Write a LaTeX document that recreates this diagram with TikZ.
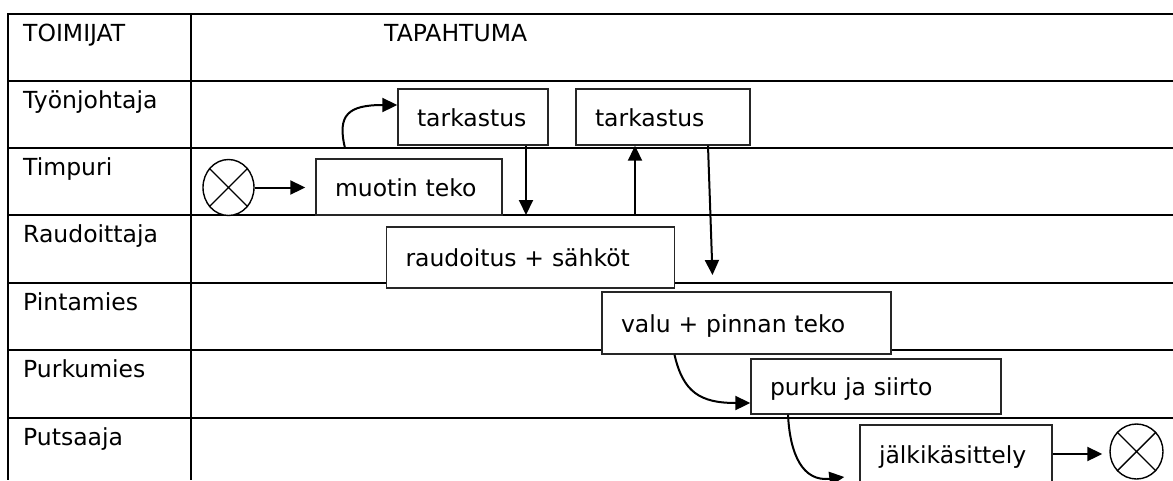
\documentclass[tikz,border=0pt]{standalone}
\usepackage{fontspec}
\setmainfont{DejaVu Sans}
\usetikzlibrary{arrows.meta,shapes.geometric}

\begin{document}
\begin{tikzpicture}[x=1pt,y=-1pt,
  every node/.style={font=\fontsize{23.5}{28}\selectfont},
  rule/.style={line width=2pt},
  lbl/.style={anchor=base west, inner sep=0pt},
  task/.style={draw=black!85, fill=white, line width=1.4pt, inner xsep=19pt,
    inner ysep=0pt, align=left, text height=18pt, text depth=0pt},
  term/.style={ellipse, draw, fill=white, line width=1.4pt, inner sep=0pt},
  cross/.style={line width=1.4pt},
  flow/.style={line width=2pt, -{Triangle[length=15pt,width=14pt]}},
]
\useasboundingbox (0,0) rectangle (1173,480);
\fill[white] (0,0) rectangle (1173,480);

% table grid
\draw[rule] (1173,14) -- (8,14) -- (8,480);
\draw[rule] (191,14) -- (191,480);
\foreach \y in {81,148,215,283,350,418}
  \draw[rule] (8,\y) -- (1173,\y);

% column headings and actor names
\node[lbl] (hA) at (23,41) {TOIMIJAT};
\node[lbl] (hB) at (384,41) {TAPAHTUMA};
\node[lbl] (a1) at (23,108.5) {Työnjohtaja};
\node[lbl] (a2) at (23,175.5) {Timpuri};
\node[lbl] (a3) at (23,242.5) {Raudoittaja};
\node[lbl] (a4) at (23,310.5) {Pintamies};
\node[lbl] (a5) at (23,377.5) {Purkumies};
\node[lbl] (a6) at (23,445.5) {Putsaaja};

% activities
\node[task, text width=112pt, minimum height=56pt] (t1) at (473,117) {tarkastus};
\node[task, text width=136pt, minimum height=56pt] (t2) at (663,117) {tarkastus};
\node[task, text width=148pt, minimum height=56pt] (m) at (409,187) {muotin teko};
\node[task, text width=250pt, minimum height=61pt] (rs) at (530.5,257.5) {raudoitus + sähköt};
\node[task, text width=251pt, minimum height=62pt] (vp) at (746.5,323) {valu + pinnan teko};
\node[task, text width=212pt, minimum height=55pt] (ps) at (876,386.5) {purku ja siirto};
\node[task, text width=154pt, minimum height=58pt] (jk) at (956,454) {jälkikäsittely};

% start and end terminals
\node[term, minimum width=51pt, minimum height=56pt] (st) at (228.5,187.5) {};
\draw[cross] (st.45) -- (st.225) (st.135) -- (st.315);
\node[term, minimum width=53pt, minimum height=55pt] (en) at (1136.5,451.5) {};
\draw[cross] (en.45) -- (en.225) (en.135) -- (en.315);

% flow
\coordinate (c1) at (345,148);
\coordinate (d1) at (526,215);
\coordinate (u1) at (635,215);
\coordinate (d2) at (712.5,275);

\draw[flow, shorten >=10pt] (st.east) -- (st.east -| m.west);
\draw[flow] (c1) .. controls (337,115) and (348,105) .. ([yshift=12pt]t1.west);
\draw[flow] (t1.south -| d1) -- (d1);
\draw[flow] (u1) -- (u1 |- t2.south);
\draw[flow] ([xshift=45pt]t2.south) -- (d2);
\draw[flow] ([xshift=-72pt]vp.south) .. controls (683,392) and (700,403) .. ([yshift=-16.5pt]ps.west);
\draw[flow] ([xshift=-88pt]ps.south) .. controls (790,455) and (803,482) .. ([xshift=-15pt,yshift=-23pt]jk.west);
\draw[flow, shorten >=7pt] (jk.east) -- (jk.east -| en.west);
\end{tikzpicture}
\end{document}
